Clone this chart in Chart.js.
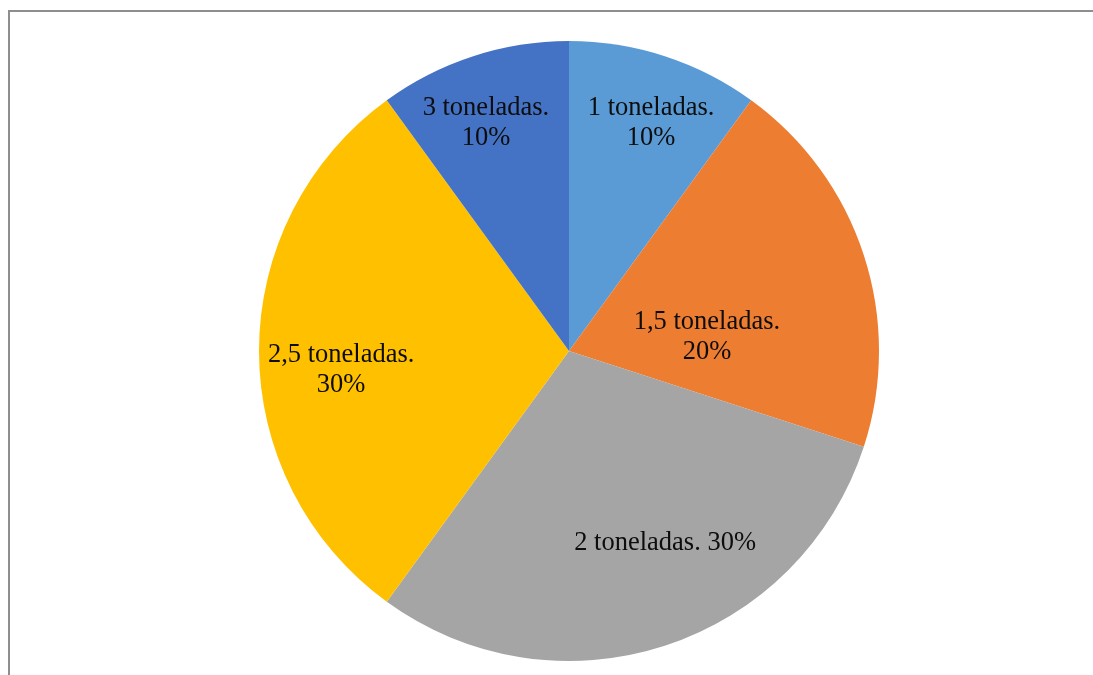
<!DOCTYPE html>
<html>
<head>
<meta charset="utf-8">
<script src="https://cdn.jsdelivr.net/npm/chart.js@4/dist/chart.umd.min.js"></script>
<style>
  html, body { margin: 0; padding: 0; background: #ffffff; }
  #wrap { position: relative; width: 1093px; height: 675px; overflow: hidden; }
  #frame { position: absolute; left: 8px; top: 10px; right: -10px; bottom: -10px;
           border-top: 2px solid #8e8e8e; border-left: 2px solid #8e8e8e; }
  canvas { position: absolute; left: 0; top: 0; }
</style>
</head>
<body>
<div id="wrap">
  <div id="frame"></div>
  <canvas id="c" width="1093" height="675"></canvas>
</div>
<script>
const categories = ["1 toneladas", "1,5 toneladas", "2 toneladas", "2,5 toneladas", "3 toneladas"];
const values = [10, 20, 30, 30, 10];
const colors = ["#5B9BD5", "#ED7D31", "#A5A5A5", "#FFC000", "#4472C4"];

// label placement (fraction of outer radius from the pie centre) and line splitting
const labelOffsets = [[0.265, -0.735], [0.445, -0.045], [0.31, 0.619], [-0.735, 0.061], [-0.268, -0.735]];
const labelOneLine = [false, false, true, false, false];

const labelPlugin = {
  id: 'sliceLabels',
  afterDatasetsDraw(chart) {
    const ctx = chart.ctx;
    const meta = chart.getDatasetMeta(0);
    const total = values.reduce((a, b) => a + b, 0);
    ctx.save();
    ctx.font = '26.5px "Liberation Serif", "Times New Roman", serif';
    ctx.fillStyle = '#0d0d0d';
    ctx.textAlign = 'center';
    ctx.textBaseline = 'middle';
    meta.data.forEach((arc, i) => {
      const r = arc.outerRadius;
      const x = arc.x + labelOffsets[i][0] * r;
      const y = arc.y + labelOffsets[i][1] * r;
      const pct = Math.round(values[i] / total * 100) + '%';
      if (labelOneLine[i]) {
        ctx.fillText(categories[i] + '. ' + pct, x, y);
      } else {
        ctx.fillText(categories[i] + '.', x, y - 15);
        ctx.fillText(pct, x, y + 15);
      }
    });
    ctx.restore();
  }
};

new Chart(document.getElementById('c'), {
  type: 'pie',
  data: {
    labels: categories,
    datasets: [{
      data: values,
      backgroundColor: colors,
      borderWidth: 0
    }]
  },
  options: {
    responsive: false,
    animation: false,
    layout: { padding: { left: 259, right: 214, top: 41, bottom: 14 } },
    plugins: {
      legend: { display: false },
      tooltip: { enabled: false }
    }
  },
  plugins: [labelPlugin]
});
</script>
</body>
</html>
